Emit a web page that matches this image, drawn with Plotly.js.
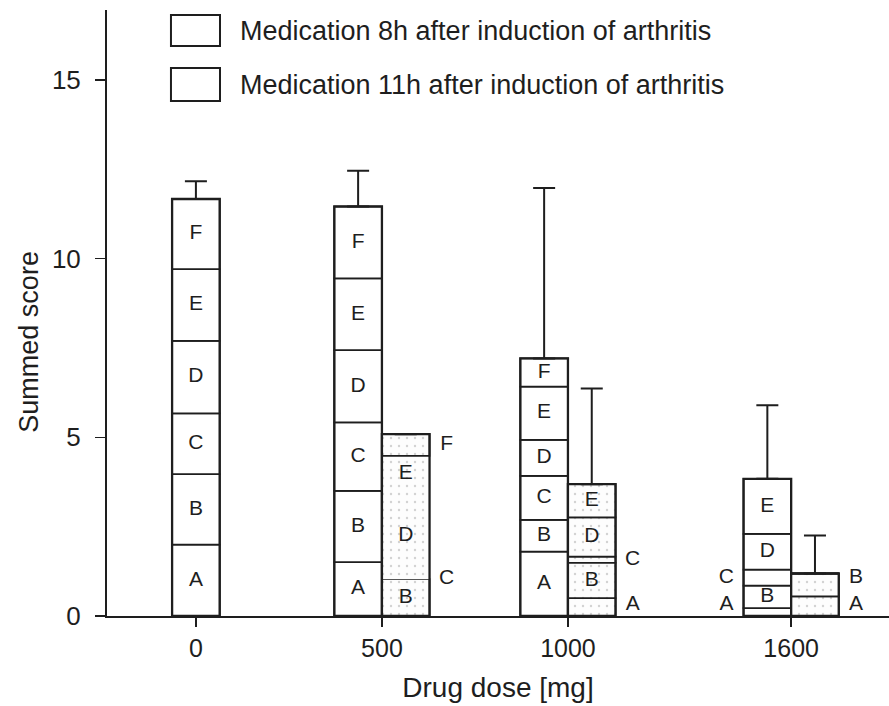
<!DOCTYPE html>
<html>
<head>
<meta charset="utf-8">
<script src="https://cdn.plot.ly/plotly-3.0.1.min.js"></script>
<style>
  html, body { margin: 0; padding: 0; background: #fff; }
  #chart { width: 889px; height: 706px; }
</style>
</head>
<body>
<div id="chart"></div>
<script>
// Drug doses (mg) on the x axis
const doses = [0, 500, 1000, 1600];
const doseLabels = ['0', '500', '1000', '1600'];
const segmentNames = ['A', 'B', 'C', 'D', 'E', 'F'];

// Score contribution of each segment, medication 8 h after induction (one value per dose)
const h8_A = [2.00, 1.51, 1.80, 0.22];
const h8_B = [1.97, 1.99, 0.89, 0.63];
const h8_C = [1.70, 1.92, 1.23, 0.45];
const h8_D = [2.03, 2.02, 1.01, 1.00];
const h8_E = [2.01, 2.01, 1.49, 1.54];
const h8_F = [1.96, 2.01, 0.79, 0.00];
const h8_err = [0.50, 1.00, 4.77, 2.06];

// Medication 11 h after induction (doses 500, 1000, 1600)
const doses11 = [500, 1000, 1600];
const h11_A = [0.00, 0.50, 0.55];
const h11_B = [1.03, 0.99, 0.64];
const h11_C = [0.00, 0.17, 0.00];
const h11_D = [2.45, 1.10, 0.00];
const h11_E = [1.00, 0.93, 0.00];
const h11_F = [0.61, 0.00, 0.00];
const h11_err = [0.00, 2.68, 1.06];

const legendNames = [
  'Medication 8h after induction of arthritis',
  'Medication 11h after induction of arthritis'
];

// ---- drawing setup ----
const FONT = 'Liberation Sans, Arial, Helvetica, sans-serif';
const INK = '#1e1e1e';
const BAR_W = 128;
// where each segment letter goes: i = inside, l = left of bar, r = right of bar, - = none
const place8 = ['iiiiii', 'iiiiii', 'iiiiii', 'lilii-'];
const place11 = ['-iriir', 'ririi-', 'rr----'];
// D/E share one box without a divider at 500 mg (11 h)
const noDivider11 = {D: [true, false, false], E: [true, false, false]};
// outside letters keep at least this gap (score units) from the one below
const OUTSIDE_GAP = 0.75;

const series = [
  {
    x: doses,
    segs: [h8_A, h8_B, h8_C, h8_D, h8_E, h8_F],
    err: h8_err,
    offset: doses.map(d => d === 0 ? -BAR_W / 2 : -BAR_W),
    place: place8,
    fill: {color: '#ffffff'}
  },
  {
    x: doses11,
    segs: [h11_A, h11_B, h11_C, h11_D, h11_E, h11_F],
    err: h11_err,
    offset: doses11.map(() => 0),
    place: place11,
    fill: {
      color: '#fdfdfd',
      pattern: {shape: '.', fgcolor: '#d2d2d2', bgcolor: '#fdfdfd', size: 8, solidity: 0.07}
    }
  }
];

const traces = [];
const labelX = [], labelY = [], labelT = [];

series.forEach((s, si) => {
  const n = s.x.length;
  const base = new Array(n).fill(0);
  const lastOutside = new Array(n).fill(-Infinity);
  s.segs.forEach((vals, k) => {
    const name = segmentNames[k];
    const lw = vals.map((v, i) =>
      (si === 1 && noDivider11[name] && noDivider11[name][i]) ? 0 : 1.7);
    traces.push({
      type: 'bar',
      x: s.x,
      y: vals,
      base: base.slice(),
      offset: s.offset,
      width: BAR_W,
      marker: Object.assign({}, s.fill, {line: {color: INK, width: lw}}),
      hoverinfo: 'skip',
      showlegend: false
    });
    vals.forEach((v, i) => {
      const p = s.place[i][k];
      if (p === '-') return;
      const left = s.x[i] + s.offset[i];
      const mid = base[i] + v / 2;
      let x, y;
      if (p === 'i') {
        x = left + BAR_W / 2; y = mid;
      } else {
        x = p === 'r' ? left + BAR_W + 46 : left - 46;
        y = Math.max(mid, 0.32, lastOutside[i] + OUTSIDE_GAP);
        lastOutside[i] = y;
      }
      labelX.push(x); labelY.push(y); labelT.push(name);
    });
    vals.forEach((v, i) => { base[i] += v; });
  });
  // outer frame of each stacked bar, carrying the error bar
  traces.push({
    type: 'bar',
    x: s.x,
    y: base.slice(),
    base: 0,
    offset: s.offset,
    width: BAR_W,
    marker: {color: 'rgba(0,0,0,0)', line: {color: INK, width: 2.3}},
    error_y: {
      type: 'data', symmetric: false, array: s.err, arrayminus: s.err.map(() => 0),
      color: INK, thickness: 2, width: 11
    },
    hoverinfo: 'skip',
    showlegend: false
  });
});

traces.push({
  type: 'scatter',
  mode: 'text',
  x: labelX,
  y: labelY,
  text: labelT,
  textposition: 'middle center',
  textfont: {family: FONT, size: 21, color: INK},
  hoverinfo: 'skip',
  showlegend: false
});

// legend drawn as boxes with captions above the plot
const legendShapes = [
  {x0: 0.0818, x1: 0.1445, y0: 0.9406, y1: 0.9917},
  {x0: 0.0818, x1: 0.1445, y0: 0.8498, y1: 0.9043}
].map(b => Object.assign({
  type: 'rect', xref: 'paper', yref: 'paper',
  line: {color: INK, width: 2}, fillcolor: '#fff', layer: 'above'
}, b));

const annotations = [
  {text: legendNames[0], x: 0.168, y: 0.966},
  {text: legendNames[1], x: 0.168, y: 0.877}
].map(a => Object.assign({
  xref: 'paper', yref: 'paper', xanchor: 'left', yanchor: 'middle',
  showarrow: false, font: {family: FONT, size: 27, color: INK}
}, a));

annotations.push({
  text: 'Summed score', textangle: -90,
  xref: 'paper', yref: 'paper', x: -0.099, y: 0.452,
  xanchor: 'center', yanchor: 'middle', showarrow: false,
  font: {family: FONT, size: 27, color: INK}
});

const layout = {
  width: 889,
  height: 706,
  margin: {l: 107, r: 0, t: 10, b: 90},
  paper_bgcolor: '#fff',
  plot_bgcolor: '#fff',
  barmode: 'overlay',
  showlegend: false,
  font: {family: FONT, color: INK},
  xaxis: {
    range: [-239, 1863],
    tickvals: doses,
    ticktext: doseLabels,
    ticks: 'outside', ticklen: 9, tickwidth: 1.6, tickcolor: INK,
    showline: true, linewidth: 2, linecolor: INK,
    showgrid: false, zeroline: false,
    tickfont: {family: FONT, size: 25, color: INK},
    title: {text: 'Drug dose [mg]', font: {family: FONT, size: 28, color: INK}, standoff: 16},
    automargin: false
  },
  yaxis: {
    range: [0, 16.96],
    tickvals: [0, 5, 10, 15],
    ticks: 'outside', ticklen: 10, tickwidth: 1.6, tickcolor: INK,
    showline: true, linewidth: 2, linecolor: INK,
    showgrid: false, zeroline: false,
    ticklabelstandoff: 9,
    tickfont: {family: FONT, size: 26, color: INK},
    automargin: false
  },
  shapes: legendShapes,
  annotations: annotations
};

Plotly.newPlot('chart', traces, layout, {staticPlot: true, displayModeBar: false});
</script>
</body>
</html>
